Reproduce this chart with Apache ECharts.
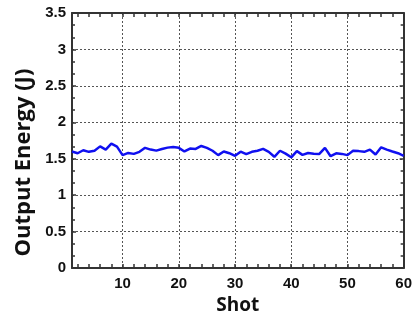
<!DOCTYPE html>
<html>
<head>
<meta charset="utf-8">
<script src="https://cdn.jsdelivr.net/npm/echarts@6/dist/echarts.min.js"></script>
<style>html,body{margin:0;padding:0;background:#fff}#c{width:415px;height:320px}</style>
</head>
<body>
<div id="c"></div>
<script>
var shots = [1,2,3,4,5,6,7,8,9,10,11,12,13,14,15,16,17,18,19,20,21,22,23,24,25,26,27,28,29,30,31,32,33,34,35,36,37,38,39,40,41,42,43,44,45,46,47,48,49,50,51,52,53,54,55,56,57,58,59,60];
var energy = [1.60,1.576,1.617,1.595,1.61,1.67,1.626,1.707,1.667,1.55,1.58,1.567,1.595,1.65,1.626,1.612,1.635,1.653,1.66,1.65,1.60,1.64,1.635,1.676,1.65,1.61,1.55,1.60,1.576,1.54,1.598,1.563,1.595,1.61,1.635,1.595,1.527,1.61,1.57,1.52,1.605,1.554,1.58,1.57,1.567,1.65,1.535,1.575,1.567,1.55,1.61,1.605,1.595,1.626,1.558,1.657,1.626,1.60,1.576,1.54];
var xLabels = [10,20,30,40,50,60];
var xMinorTicks = [2,4,6,8,10,12,14,16,18,20,22,24,26,28,30,32,34,36,38,40,42,44,46,48,50,52,54,56,58,60];
var yTicks = [0,0.5,1,1.5,2,2.5,3,3.5];

var axisColor = '#333';
var labelFont = {fontFamily:'Liberation Sans', fontWeight:'bold', fontSize:15, color:'#111'};
var chart = echarts.init(document.getElementById('c'), null, {renderer:'canvas'});
var baseX = {type:'value', min:1, max:60};
chart.setOption({
  animation:false,
  grid:{left:72, right:8, top:13, bottom:49, containLabel:false},
  xAxis:[
    Object.assign({}, baseX, {position:'bottom', name:'Shot', nameLocation:'middle', nameGap:25,
      nameTextStyle:{fontFamily:'Open Sans', fontWeight:'bold', fontSize:19, color:'#111'},
      axisLine:{show:true, lineStyle:{color:axisColor, width:2}},
      axisTick:{show:true, inside:true, length:4, customValues:xMinorTicks, lineStyle:{color:axisColor, width:1.5}},
      axisLabel:Object.assign({customValues:xLabels, margin:8}, labelFont),
      splitLine:{show:false}}),
    Object.assign({}, baseX, {position:'bottom',
      axisLine:{show:false}, axisTick:{show:false, customValues:xLabels}, axisLabel:{show:false},
      splitLine:{show:true, lineStyle:{type:[2,2], color:'#555', width:1}}}),
    Object.assign({}, baseX, {position:'top',
      axisLine:{show:true, lineStyle:{color:axisColor, width:2}},
      axisTick:{show:true, inside:true, length:4, customValues:xMinorTicks, lineStyle:{color:axisColor, width:1.5}},
      axisLabel:{show:false}, splitLine:{show:false}})
  ],
  yAxis:[
    {type:'value', min:0, max:3.5, interval:0.5, position:'left',
      name:'Output Energy (J)', nameLocation:'middle', nameGap:35,
      nameTextStyle:{fontFamily:'Open Sans', fontWeight:'bold', fontSize:22, color:'#111', padding:[0,44,0,0]},
      axisLine:{show:true, lineStyle:{color:axisColor, width:2}},
      axisTick:{show:true, inside:true, length:4, lineStyle:{color:axisColor, width:1.5}},
      minorTick:{show:true, splitNumber:3, length:3, lineStyle:{color:axisColor, width:1.5}},
      axisLabel:Object.assign({margin:6, formatter:function(v){return String(v);}}, labelFont),
      splitLine:{show:true, lineStyle:{type:[2,2], color:'#555', width:1}}},
    {type:'value', min:0, max:3.5, interval:0.5, position:'right',
      axisLine:{show:true, lineStyle:{color:axisColor, width:2}},
      axisTick:{show:true, inside:true, length:4, lineStyle:{color:axisColor, width:1.5}},
      minorTick:{show:true, splitNumber:3, length:3, lineStyle:{color:axisColor, width:1.5}},
      axisLabel:{show:false}, splitLine:{show:false}}
  ],
  series:[{
    type:'line', xAxisIndex:0, yAxisIndex:0,
    data: shots.map(function(s,i){return [s, energy[i]];}),
    showSymbol:false, symbol:'none',
    lineStyle:{color:'#1010f0', width:2.5}
  }]
});
</script>
</body>
</html>
